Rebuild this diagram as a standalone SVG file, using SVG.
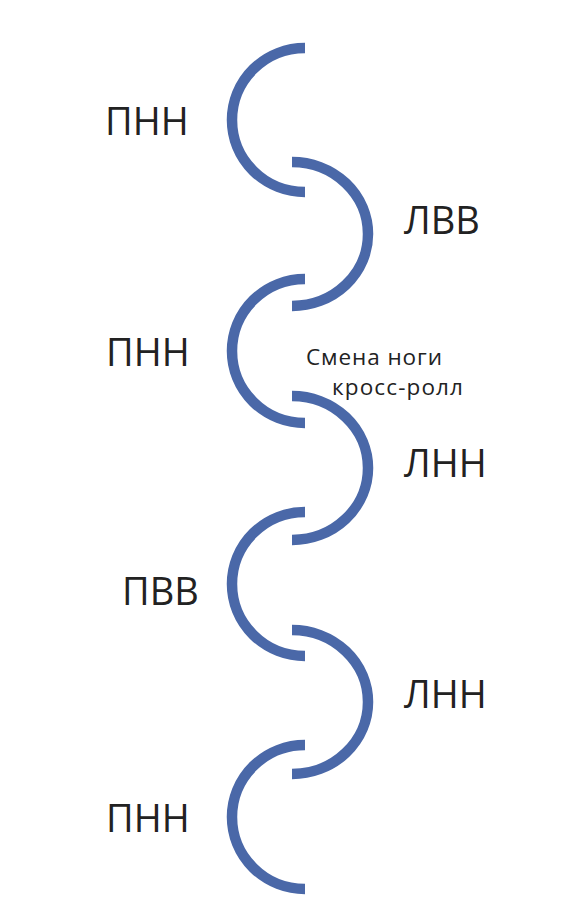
<svg xmlns="http://www.w3.org/2000/svg" width="563" height="921" viewBox="0 0 563 921">
<style>
.arc{fill:none;stroke:#4a68a8;stroke-width:10.5;stroke-linecap:butt}
.lbl{font-family:"Open Sans","Liberation Sans",sans-serif;font-size:38px;fill:#222}
.note{font-family:"Open Sans","Liberation Sans",sans-serif;font-size:22.5px;fill:#222}
</style>
<rect width="563" height="921" fill="#ffffff"/>
<g id="connectors">
<path class="arc" d="M305 48 A73 72 0 0 0 305 192"/>
<path class="arc" d="M292 162 A76 72 0 0 1 292 306"/>
<path class="arc" d="M305 279 A73 72 0 0 0 305 423"/>
<path class="arc" d="M292 396 A76 72 0 0 1 292 540"/>
<path class="arc" d="M305 512 A73 72 0 0 0 305 656"/>
<path class="arc" d="M292 630 A76 72 0 0 1 292 774"/>
<path class="arc" d="M305 745 A73 72 0 0 0 305 889"/>
</g>
<g id="n1"><text class="lbl" x="105" y="135">ПНН</text></g>
<g id="n2"><text class="lbl" x="404" y="234">ЛВВ</text></g>
<g id="n3"><text class="lbl" x="106" y="366">ПНН</text></g>
<g id="n4"><text class="note" x="306" y="365" textLength="136">Смена ноги</text><text class="note" x="332" y="395" textLength="131">кросс-ролл</text></g>
<g id="n5"><text class="lbl" x="404" y="477">ЛНН</text></g>
<g id="n6"><text class="lbl" x="122" y="605">ПВВ</text></g>
<g id="n7"><text class="lbl" x="404" y="708">ЛНН</text></g>
<g id="n8"><text class="lbl" x="106" y="832">ПНН</text></g>
</svg>
